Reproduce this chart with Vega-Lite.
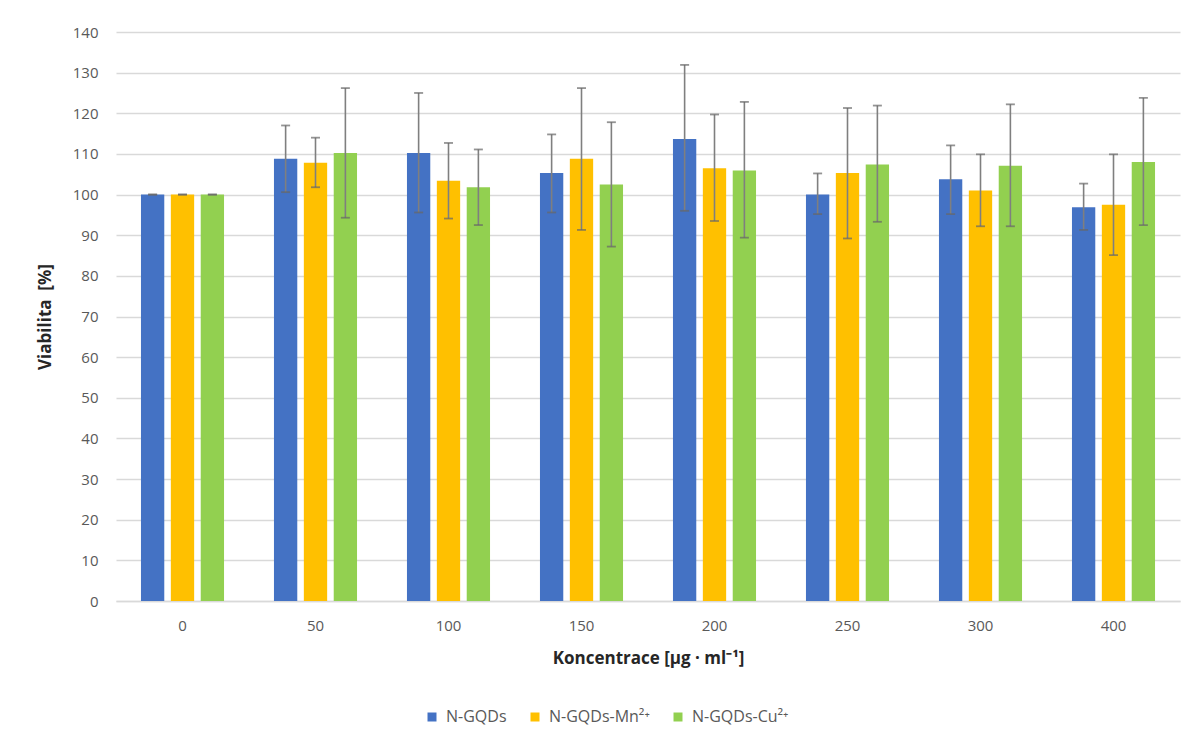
{
  "$schema": "https://vega.github.io/schema/vega-lite/v6.json",
  "width": 1064,
  "height": 569,
  "autosize": {"type": "none"},
  "padding": {"left": 116, "top": 32, "right": 13, "bottom": 139},
  "background": "white",
  "config": {
    "font": "Open Sans",
    "view": {"stroke": null},
    "axis": {"labelFont": "Open Sans", "titleFont": "Open Sans"}
  },
  "data": {
    "values": [
      {"conc": "0", "series": "N-GQDs", "value": 100, "lo": 100, "hi": 100},
      {"conc": "0", "series": "N-GQDs-Mn²⁺", "value": 100, "lo": 100, "hi": 100},
      {"conc": "0", "series": "N-GQDs-Cu²⁺", "value": 100, "lo": 100, "hi": 100},
      {"conc": "50", "series": "N-GQDs", "value": 108.8, "lo": 100.6, "hi": 117.0},
      {"conc": "50", "series": "N-GQDs-Mn²⁺", "value": 107.8, "lo": 101.8, "hi": 114.0},
      {"conc": "50", "series": "N-GQDs-Cu²⁺", "value": 110.2, "lo": 94.3, "hi": 126.2},
      {"conc": "100", "series": "N-GQDs", "value": 110.2, "lo": 95.6, "hi": 125.0},
      {"conc": "100", "series": "N-GQDs-Mn²⁺", "value": 103.4, "lo": 94.1, "hi": 112.7},
      {"conc": "100", "series": "N-GQDs-Cu²⁺", "value": 101.8, "lo": 92.5, "hi": 111.1},
      {"conc": "150", "series": "N-GQDs", "value": 105.3, "lo": 95.6, "hi": 114.8},
      {"conc": "150", "series": "N-GQDs-Mn²⁺", "value": 108.8, "lo": 91.3, "hi": 126.2},
      {"conc": "150", "series": "N-GQDs-Cu²⁺", "value": 102.5, "lo": 87.2, "hi": 117.8},
      {"conc": "200", "series": "N-GQDs", "value": 113.7, "lo": 96.0, "hi": 131.9},
      {"conc": "200", "series": "N-GQDs-Mn²⁺", "value": 106.5, "lo": 93.5, "hi": 119.7},
      {"conc": "200", "series": "N-GQDs-Cu²⁺", "value": 105.9, "lo": 89.4, "hi": 122.8},
      {"conc": "250", "series": "N-GQDs", "value": 100.0, "lo": 95.2, "hi": 105.2},
      {"conc": "250", "series": "N-GQDs-Mn²⁺", "value": 105.3, "lo": 89.2, "hi": 121.3},
      {"conc": "250", "series": "N-GQDs-Cu²⁺", "value": 107.4, "lo": 93.3, "hi": 121.9},
      {"conc": "300", "series": "N-GQDs", "value": 103.8, "lo": 95.2, "hi": 112.1},
      {"conc": "300", "series": "N-GQDs-Mn²⁺", "value": 101.0, "lo": 92.2, "hi": 109.9},
      {"conc": "300", "series": "N-GQDs-Cu²⁺", "value": 107.1, "lo": 92.2, "hi": 122.2},
      {"conc": "400", "series": "N-GQDs", "value": 96.9, "lo": 91.3, "hi": 102.7},
      {"conc": "400", "series": "N-GQDs-Mn²⁺", "value": 97.5, "lo": 85.1, "hi": 109.9},
      {"conc": "400", "series": "N-GQDs-Cu²⁺", "value": 108.0, "lo": 92.5, "hi": 123.8}
    ]
  },
  "encoding": {
    "x": {
      "field": "conc", "type": "nominal", "sort": null,
      "scale": {"paddingInner": 0.353, "paddingOuter": 0.1765},
      "axis": {
        "title": "Koncentrace [µg · ml⁻¹]", "labelAngle": 0, "labelFontSize": 15, "labelColor": "#595959",
        "labelPadding": 17, "ticks": false, "domainColor": "#d9d9d9", "domainWidth": 1.5,
        "titleFontSize": 17, "titleFontWeight": "bold", "titleColor": "#262626", "titlePadding": 17
      }
    },
    "xOffset": {
      "field": "series", "type": "nominal", "sort": ["N-GQDs", "N-GQDs-Mn²⁺", "N-GQDs-Cu²⁺"],
      "scale": {"paddingInner": 0.22, "paddingOuter": 0.05}
    }
  },
  "layer": [
    {
      "mark": {"type": "bar"},
      "encoding": {
        "y": {
          "field": "value", "type": "quantitative",
          "scale": {"domain": [0, 140], "nice": false},
          "axis": {
            "title": "Viabilita \u00a0[%]", "values": [0,10,20,30,40,50,60,70,80,90,100,110,120,130,140],
            "labelFontSize": 15, "labelColor": "#595959", "labelPadding": 18, "ticks": false, "domain": false,
            "gridColor": "#d9d9d9", "gridWidth": 1.5,
            "titleFontSize": 17, "titleFontWeight": "bold", "titleColor": "#262626", "titlePadding": 18
          }
        },
        "color": {
          "field": "series", "type": "nominal", "sort": ["N-GQDs", "N-GQDs-Mn²⁺", "N-GQDs-Cu²⁺"],
          "scale": {"domain": ["N-GQDs", "N-GQDs-Mn²⁺", "N-GQDs-Cu²⁺"], "range": ["#4472C4", "#FFC000", "#92D050"]},
          "legend": {
            "title": null, "orient": "none", "direction": "horizontal", "legendX": 308, "legendY": 677,
            "symbolType": "square", "symbolSize": 81, "symbolStrokeWidth": 0, "labelFontSize": 16, "labelColor": "#595959",
            "columnPadding": 20, "labelOffset": 6
          }
        }
      }
    },
    {
      "mark": {"type": "rule", "color": "#7f7f7f", "strokeWidth": 1.6},
      "encoding": {
        "y": {"field": "lo", "type": "quantitative"},
        "y2": {"field": "hi"}
      }
    },
    {
      "mark": {"type": "tick", "color": "#666666", "thickness": 1.8, "size": 9, "orient": "horizontal"},
      "encoding": {"y": {"field": "lo", "type": "quantitative"}}
    },
    {
      "mark": {"type": "tick", "color": "#666666", "thickness": 1.8, "size": 9, "orient": "horizontal"},
      "encoding": {"y": {"field": "hi", "type": "quantitative"}}
    }
  ]
}
